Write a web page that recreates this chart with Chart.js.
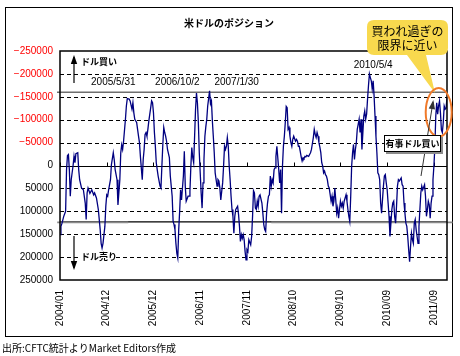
<!DOCTYPE html>
<html><head><meta charset="utf-8">
<script src="https://cdn.jsdelivr.net/npm/chart.js@4/dist/chart.umd.min.js"></script>
<style>html,body{margin:0;padding:0;background:#fff}canvas{display:block}</style>
</head><body>
<canvas id="c" width="460" height="356"></canvas>
<script>
// week index from 2004/01/06
const weeks = [0,1,2,4,6,7,8,9,10,11,12,14,15,16,17,19,20,21,23,25,27,28,29,30,32,34,36,37,39,41,43,44,45,46,48,49,50,51,52,54,55,57,58,59,61,62,64,65,66,67,68,70,71,72,74,75,77,78,79,80,82,83,84,85,86,88,89,90,91,92,93,94,95,97,98,99,100,101,102,103,104,105,107,108,109,110,111,112,113,114,115,117,118,120,121,122,123,124,125,126,127,128,129,130,131,132,133,134,135,137,138,139,140,141,142,143,144,145,146,147,148,149,150,151,152,153,154,155,156,157,158,159,160,161,162,163,164,165,166,167,168,169,170,171,172,174,175,176,177,178,179,180,181,182,183,184,185,186,187,188,190,191,192,193,194,195,196,197,198,199,200,201,202,204,205,206,207,208,209,210,211,212,213,214,216,217,218,219,220,221,222,223,224,225,226,227,228,229,230,231,232,234,235,236,237,238,239,240,241,242,243,244,245,246,247,248,249,250,252,253,254,255,256,257,258,259,260,261,262,263,264,266,267,268,269,270,271,272,273,274,275,276,277,278,279,280,281,282,283,284,285,286,287,288,290,291,292,293,294,295,296,297,298,299,300,301,302,303,304,306,307,308,309,310,311,312,313,314,315,316,317,318,319,320,321,322,323,325,326,327,328,329,330,331,332,333,334,335,336,337,338,339,340,341,342,343,344,346,347,348,349,350,351,352,353,354,355,356,357,358,359,360,361,362,363,365,366,367,368,369,370,371,372,373,374,375,376,377,378,379,380,381,382,383,384,385,386,387,388,390,391,392,393,394,395,396,397,398,399,400,401,402,403,404,405,406,407,408,409,410,411,412,413,414];
const netPosition = [151000,133000,127000,111000,100000,9000,-22000,-24000,9000,67000,31000,0,-20000,-6000,-26000,-28000,9000,31000,49000,53000,82000,118000,60000,49000,61000,53000,64000,60000,71000,96000,140000,170000,180000,170000,133000,89000,64000,67000,53000,31000,-2000,-28000,-13000,9000,31000,86000,31000,-28000,-45000,-35000,-53000,-101000,-130000,-146000,-145000,-141000,-123000,-137000,-115000,-101000,-94000,-79000,-64000,-50000,-20000,31000,-13000,-35000,-68000,-72000,-64000,-79000,-97000,-126000,-141000,-137000,-115000,-72000,-42000,-6000,9000,23000,45000,49000,1000,-46000,-83000,-72000,-64000,-53000,-35000,-17000,23000,67000,122000,129000,140000,170000,192000,202000,140000,100000,53000,75000,49000,23000,-31000,45000,78000,67000,67000,56000,1000,-39000,-17000,-6000,-64000,-123000,-158000,-137000,-94000,-28000,16000,60000,93000,38000,-13000,-64000,-85000,-101000,-130000,-146000,-163000,-135000,-141000,-97000,-64000,-28000,16000,31000,45000,31000,34000,49000,75000,38000,1000,-42000,-35000,-42000,-61000,-42000,1000,31000,67000,96000,111000,148000,111000,96000,89000,107000,133000,166000,151000,159000,151000,162000,188000,206000,184000,188000,162000,173000,155000,111000,55000,60000,93000,96000,78000,89000,67000,64000,82000,104000,129000,140000,144000,104000,82000,67000,64000,23000,45000,31000,38000,9000,5000,-20000,-42000,9000,38000,9000,104000,1000,-42000,-64000,-94000,-129000,-126000,-79000,-83000,-64000,-50000,-42000,-57000,-64000,-53000,-57000,-53000,-42000,-42000,-31000,-19000,-10000,-17000,-15000,-20000,-19000,-22000,-20000,-24000,-28000,-35000,-48000,-61000,-79000,-68000,-61000,-72000,-64000,-50000,-40000,-28000,-6000,1000,16000,12000,20000,23000,31000,45000,49000,78000,67000,89000,78000,49000,75000,104000,93000,115000,96000,78000,89000,82000,93000,78000,64000,78000,96000,111000,122000,67000,1000,-28000,-46000,-13000,-35000,-50000,-79000,-90000,-101000,-72000,-101000,-35000,-108000,-119000,-101000,-112000,-145000,-174000,-200000,-192000,-185000,-167000,-185000,-152000,-108000,-64000,-28000,16000,20000,31000,82000,104000,45000,23000,20000,38000,53000,82000,111000,155000,126000,96000,82000,78000,111000,126000,89000,45000,31000,34000,27000,42000,45000,82000,104000,126000,133000,155000,184000,210000,177000,148000,162000,170000,126000,118000,140000,155000,170000,133000,96000,60000,45000,53000,42000,67000,111000,96000,78000,86000,115000,82000,67000,31000,1000,-40000,-108000,-137000,-112000,-130000,-141000,-115000,-78000,-72000,-94000,-130000,-123000,-125000,-148000];
const tickWeeks = [0,50,100,150,200,250,300,350,400];
const tickLabels = ['2004/01','2004/12','2005/12','2006/11','2007/11','2008/10','2009/10','2010/09','2011/09'];
const yTickValues = [-250000,-200000,-150000,-100000,-50000,0,50000,100000,150000,200000,250000];
const refLines = [-160000, 123000];
const peakNotes = [
  {text:'2005/5/31', week:57, value:-200000},
  {text:'2006/10/2', week:125.5, value:-200000},
  {text:'2007/1/30', week:189, value:-200000},
  {text:'2010/5/4', week:335, value:-237000}
];

const deco = {
  id:'deco',
  beforeDraw(chart){
    const c = chart.ctx;
    c.save();
    c.fillStyle='#fff'; c.fillRect(0,0,chart.width,chart.height);
    c.strokeStyle='#000'; c.lineWidth=1;
    c.strokeRect(5.5,7.5,447,329);
    c.fillStyle='#000';
    c.font='bold 10px "Noto Sans CJK JP"';
    c.textAlign='center'; c.textBaseline='middle';
    c.fillText('米ドルのポジション',229,23);
    c.font='10px "Noto Sans CJK JP"';
    c.textAlign='left';
    c.fillText('出所:CFTC統計よりMarket Editors作成',2,348);
    c.restore();
  },
  beforeDatasetsDraw(chart){
    const c = chart.ctx, a = chart.chartArea, ys = chart.scales.y, xs = chart.scales.x;
    c.save();
    c.lineWidth=1; c.strokeStyle='#000';
    yTickValues.forEach(v=>{
      if (v===yTickValues[0]||v===yTickValues[yTickValues.length-1]) return;
      const y = Math.round(ys.getPixelForValue(v))+0.5;
      c.setLineDash(v===0?[]:[4,3]);
      c.beginPath(); c.moveTo(a.left,y); c.lineTo(a.right,y); c.stroke();
    });
    c.setLineDash([]);
    const y0 = Math.round(ys.getPixelForValue(0))+0.5;
    tickWeeks.forEach(w=>{
      const x = Math.round(xs.getPixelForValue(w))+0.5;
      c.beginPath(); c.moveTo(x,y0); c.lineTo(x,y0-4); c.stroke();
    });
    const yt = ys.getPixelForValue(refLines[0]);
    c.strokeStyle='#6e6e6e'; c.lineWidth=1.6;
    c.beginPath(); c.moveTo(a.left-3,yt); c.lineTo(a.right,yt); c.stroke();
    const yb = ys.getPixelForValue(refLines[1]);
    c.strokeStyle='#000'; c.lineWidth=1.2;
    c.beginPath(); c.moveTo(a.left,yb); c.lineTo(a.right,yb); c.stroke();
    c.strokeStyle='#8a8a8a'; c.lineWidth=1.8;
    [[-3,73],[226,420]].forEach(s=>{
      c.beginPath(); c.moveTo(xs.getPixelForValue(s[0]),yb+0.5); c.lineTo(xs.getPixelForValue(s[1]),yb+0.5); c.stroke();
    });
    // white background behind the sell label
    c.fillStyle='#fff'; c.fillRect(79,251,37,12);
    c.restore();
  },
  afterDatasetsDraw(chart){
    const c = chart.ctx, a = chart.chartArea, ys = chart.scales.y, xs = chart.scales.x;
    c.save();
    c.strokeStyle='#000'; c.lineWidth=1.5;
    c.strokeRect(a.left,a.top,a.right-a.left,a.bottom-a.top);
    function arrow(x1,y1,x2,y2,color,w){
      c.strokeStyle=color; c.fillStyle=color; c.lineWidth=w;
      c.beginPath(); c.moveTo(x1,y1); c.lineTo(x2,y2); c.stroke();
      const ang = Math.atan2(y2-y1,x2-x1), L=7, W=3.2;
      c.beginPath();
      c.moveTo(x2+Math.cos(ang)*2,y2+Math.sin(ang)*2);
      c.lineTo(x2-Math.cos(ang)*L+Math.sin(ang)*W, y2-Math.sin(ang)*L-Math.cos(ang)*W);
      c.lineTo(x2-Math.cos(ang)*L-Math.sin(ang)*W, y2-Math.sin(ang)*L+Math.cos(ang)*W);
      c.closePath(); c.fill();
    }
    arrow(74,83,74,57,'#000',1.2);
    arrow(74,236,74,268,'#000',1.2);
    c.fillStyle='#000';
    c.font='bold 9px "Noto Sans CJK JP"'; c.textAlign='left'; c.textBaseline='middle';
    c.fillText('ドル買い',81,62);
    c.fillText('ドル売り',81,257);
    c.font='10px "Liberation Sans"'; c.textAlign='center';
    peakNotes.forEach(n=>{
      c.fillText(n.text, xs.getPixelForValue(n.week), ys.getPixelForValue(n.value)+8);
    });
    c.fillStyle='#F8D94E';
    c.beginPath();
    const bx=367,by=20,bw=81,bh=35,r=7;
    c.moveTo(bx+r,by); c.lineTo(bx+bw-r,by); c.quadraticCurveTo(bx+bw,by,bx+bw,by+r);
    c.lineTo(bx+bw,by+bh-r); c.quadraticCurveTo(bx+bw,by+bh,bx+bw-r,by+bh);
    c.lineTo(426,by+bh); c.lineTo(435,93); c.lineTo(407,by+bh);
    c.lineTo(bx+r,by+bh); c.quadraticCurveTo(bx,by+bh,bx,by+bh-r);
    c.lineTo(bx,by+r); c.quadraticCurveTo(bx,by,bx+r,by);
    c.closePath(); c.fill();
    c.fillStyle='#000'; c.font='12px "Noto Sans CJK JP"';
    c.fillText('買われ過ぎの',407.5,31);
    c.fillText('限界に近い',407.5,45);
    c.strokeStyle='#F07A2A'; c.lineWidth=2;
    c.beginPath(); c.ellipse(438.7,112.3,13,24.3,0,0,Math.PI*2); c.stroke();
    arrow(421,176,433,102,'#333',1);
    c.fillStyle='#8c8c8c'; c.fillRect(386,137,57,17);
    c.fillStyle='#fff'; c.fillRect(384,135,57,17);
    c.strokeStyle='#000'; c.lineWidth=1; c.strokeRect(384.5,135.5,56,16);
    c.fillStyle='#000'; c.font='bold 9px "Noto Sans CJK JP"';
    c.fillText('有事ドル買い',412.5,144);
    c.restore();
  }
};

new Chart(document.getElementById('c'), {
  type:'line',
  data:{datasets:[{
    data: weeks.map((w,i)=>({x:w,y:netPosition[i]})),
    borderColor:'#000080', borderWidth:1.3, pointRadius:0, tension:0, fill:false
  }]},
  options:{
    responsive:false, animation:false, devicePixelRatio:1,
    layout:{padding:{top:51,right:13,left:0,bottom:0}},
    plugins:{legend:{display:false},tooltip:{enabled:false}},
    scales:{
      x:{type:'linear', min:0, max:414,
        afterBuildTicks(s){ s.ticks = tickWeeks.map(v=>({value:v})); },
        afterFit(s){ s.height = 76; },
        grid:{display:false, drawTicks:false}, border:{display:false},
        ticks:{autoSkip:false, minRotation:90, maxRotation:90, padding:10, color:'#000',
          font:{family:'"Liberation Sans"', size:10},
          callback:(v)=>{const i=tickWeeks.indexOf(v); return i>=0?tickLabels[i]:'';}}
      },
      y:{type:'linear', min:-250000, max:250000, reverse:true,
        afterBuildTicks(s){ s.ticks = yTickValues.map(v=>({value:v})); },
        afterFit(s){ s.width = 60; },
        grid:{display:false, drawTicks:false}, border:{display:false},
        ticks:{padding:7, font:{family:'"Liberation Sans"', size:10},
          color:(ctx)=> ctx.tick && ctx.tick.value<0 ? '#FF0000' : '#000',
          callback:(v)=> v<0 ? '\u2212'+Math.abs(v) : String(v)}
      }
    }
  },
  plugins:[deco]
});
</script>
</body></html>
